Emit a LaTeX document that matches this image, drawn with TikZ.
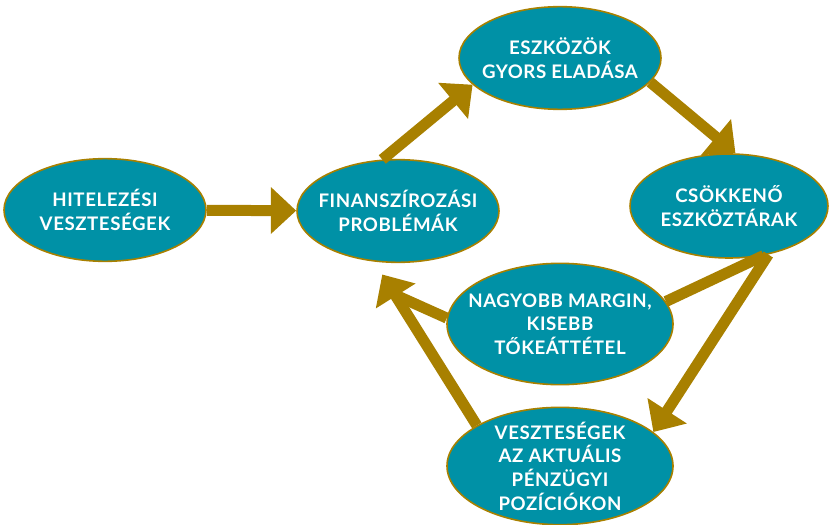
\documentclass[tikz,border=0pt]{standalone}
\usepackage{fontspec}
\setmainfont{Lato}[LetterSpace=3]
\usetikzlibrary{shapes.geometric,arrows.meta,calc}
\definecolor{petrol}{RGB}{0,145,166}
\definecolor{okker}{RGB}{168,128,0}
\begin{document}
\begin{tikzpicture}[x=0.75pt, y=-0.75pt,
        font=\bfseries\fontsize{14}{17.8}\selectfont,
        every node/.style = {shape=ellipse, align=center, text=white,
            fill=petrol, draw=okker, line width=1.2pt,
            inner xsep=-14pt, inner ysep=-10pt},
        kis/.style = {minimum width=151.5pt, minimum height=77pt},
        nagy/.style = {minimum width=169.5pt, minimum height=91pt},
        nyil/.style = {draw=okker, line width=8.25pt,
            -{Triangle[length=19pt, width=34pt]}},
        vonal/.style = {draw=okker, line width=8.25pt}]
    \useasboundingbox (0,0) rectangle (830,524);
    \node[kis] (hitel) at (105,210) {HITELEZÉSI\\VESZTESÉGEK};
    \node[kis] (finansz) at (398,211) {FINANSZÍROZÁSI\\PROBLÉMÁK};
    \node[kis] (eszkoz) at (560,58) {ESZKÖZÖK\\GYORS ELADÁSA};
    \node[kis, minimum width=148.5pt, minimum height=78pt] (csokken) at (729,206) {CSÖKKENŐ\\ESZKÖZTÁRAK};
    \node[nagy] (margin) at (560,324) {NAGYOBB MARGIN,\\KISEBB\\TŐKEÁTTÉTEL};
    \node[nagy, minimum height=88pt] (veszt) at (560,466) {VESZTESÉGEK\\AZ AKTUÁLIS\\PÉNZÜGYI\\POZÍCIÓKON};
    \draw[nyil] (hitel) -- (finansz);
    \draw[nyil] (finansz.107) -- (eszkoz.197);
    \draw[nyil] (eszkoz.345) -- (csokken.83);
    \draw[nyil] (csokken.309) -- (veszt.20);
    \draw[vonal] (csokken.305) -- (margin.12);
    \coordinate (fincel) at ($(finansz.253)+(0,12)$);
    \coordinate (finalap) at ($(fincel)!18pt!(veszt.154)$);
    \draw[vonal] (margin.177) -- (finalap);
    \draw[nyil] (veszt.154) -- (fincel);
\end{tikzpicture}
\end{document}
